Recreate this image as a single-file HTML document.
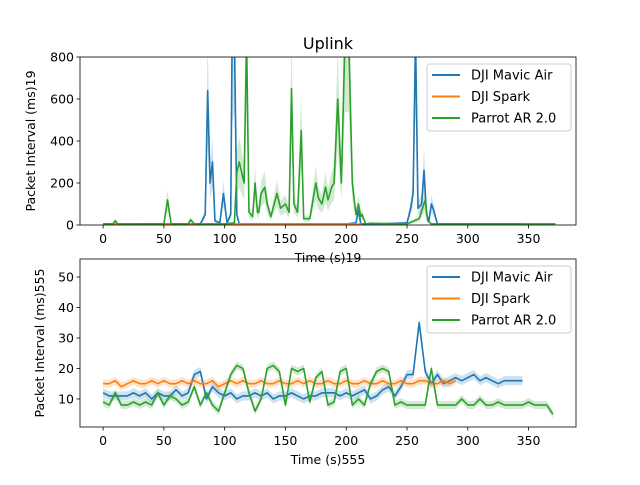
<!DOCTYPE html>
<html><head><meta charset="utf-8"><style>
body{margin:0;background:#fff}
svg{font-family:"DejaVu Sans","Liberation Sans",sans-serif}
</style></head><body>
<svg id="c" width="640" height="480" viewBox="0 0 640 480"></svg>
<script>
const topMavicT=[0,20,40,60,80,84,86,88,90,92,96,99,102,105,106,108,110,112,120,150,200,208,210,212,230,250,253,255,257,259,262,264,266,268,270,272,275,300,345];
const topMavicV=[5,4,5,5,6,50,640,200,300,20,10,150,10,50,800,900,50,5,6,5,5,10,70,5,6,10,80,150,900,80,100,260,50,20,100,70,5,5,5];
const topSparkT=[0,30,60,100,110,150,200,213];
const topSparkV=[3,4,3,4,5,5,5,4];
const topParrotT=[0,8,10,12,50,53,56,70,72,75,100,108,110,112,114,116,118,120,123,125,127,128,130,133,135,138,143,146,150,153,155,157,160,163,165,170,175,177,180,183,185,188,190,193,196,199,202,205,208,210,212,213,216,220,250,260,265,267,270,300,372];
const topParrotV=[5,5,20,5,5,120,5,5,25,5,5,10,250,300,250,200,900,60,40,200,60,60,150,180,100,40,150,80,100,60,650,100,60,450,30,30,200,130,100,180,120,180,200,600,200,900,900,200,50,100,40,50,5,8,5,30,120,20,5,5,5];
const botMavic=[12,11,11,11,11,12,11,12,10,12,11,11,13,11,12,18,19,10,14,12,11,12,10,11,11,12,11,12,10,11,11,12,11,10,11,11,12,12,12,11,12,11,12,13,10,11,13,14,11,14,18,18,35,19,15,18,15,16,17,16,17,18,16,17,16,15,16,16,16,16];
const botSpark=[15,15,16,14,15,16,15,15,16,15,16,15,15,16,15,16,15,15,16,14,15,16,15,16,15,15,16,15,15,16,15,15,16,15,16,15,15,16,15,15,16,15,15,16,15,15,16,15,15,16,15,15,16,16,15,15,16,15,16];
const botParrot=[9,8,12,8,8,9,8,9,8,12,8,11,10,8,9,14,8,12,8,6,12,18,21,20,12,6,10,20,21,19,8,20,19,20,9,17,19,8,9,19,20,8,10,8,15,19,20,19,8,9,8,8,8,8,20,8,8,8,8,10,8,8,10,8,8,9,8,8,8,8,9,8,8,8,5];
const xTicks=[0,50,100,150,200,250,300,350];
const topYTicks=[0,200,400,600,800];
const botYTicks=[10,20,30,40,50];
const C=['#1f77b4','#ff7f0e','#2ca02c'];
const NAMES=['DJI Mavic Air','DJI Spark','Parrot AR 2.0'];
const svg=document.getElementById('c');
const NS='http://www.w3.org/2000/svg';
function mk(t,a,p){const e=document.createElementNS(NS,t);for(const k in a)e.setAttribute(k,a[k]);(p||svg).appendChild(e);return e;}
const X0=80,X1=576,xmin=-19,xmax=389;
const xs=v=>X0+(v-xmin)/(xmax-xmin)*(X1-X0);
function axes(top,bot,ymin,ymax,yt,ylab,xlab,series,pref){
  const ys=v=>bot-(v-ymin)/(ymax-ymin)*(bot-top);
  const g=mk('g',{});
  
  
  const cp=mk('clipPath',{id:pref+'clip'},g);mk('rect',{x:X0,y:top,width:X1-X0,height:bot-top},cp);
  const pg=mk('g',{'clip-path':'url(#'+pref+'clip)'},g);
  series.forEach((s,i)=>{
    const up=s.t.map((t,j)=>xs(t)+','+ys(s.v[j]*s.hi+s.add)).join(' ');
    const dn=s.t.map((t,j)=>xs(t)+','+ys(Math.max(ymin,s.v[j]*s.lo-s.add))).reverse().join(' ');
    const band=mk('polygon',{points:up+' '+dn,fill:C[i],'fill-opacity':0.22,stroke:'none'},pg);
    
    
    const ln=mk('polyline',{points:s.t.map((t,j)=>xs(t)+','+ys(s.v[j])).join(' '),fill:'none',stroke:C[i],'stroke-width':1.6,'stroke-linejoin':'round'},pg);
    
    
  });
  mk('rect',{x:X0,y:top,width:X1-X0,height:bot-top,fill:'none',stroke:'#000','stroke-width':0.8},g);
  xTicks.forEach(t=>{const x=xs(t);mk('line',{x1:x,x2:x,y1:bot,y2:bot+3.5,stroke:'#000','stroke-width':0.8},g);
    const tx=mk('text',{x:x,y:bot+18,'font-size':12.5,'text-anchor':'middle'},g);tx.textContent=t;});
  yt.forEach(t=>{const y=ys(t);mk('line',{x1:X0-3.5,x2:X0,y1:y,y2:y,stroke:'#000','stroke-width':0.8},g);
    const tx=mk('text',{x:X0-6,y:y+4.5,'font-size':12.5,'text-anchor':'end'},g);tx.textContent=t;});
  const xl=mk('text',{x:(X0+X1)/2,y:bot+37,'font-size':12.5,'text-anchor':'middle'},g);xl.textContent=xlab;
  
  const yl=mk('text',{x:0,y:0,'font-size':12.5,'text-anchor':'middle',transform:'translate('+(pref=='top'?35:44)+','+((top+bot)/2)+') rotate(-90)'},g);yl.textContent=ylab;
  
  const lg=mk('g',{},g);
  
  
  mk('rect',{x:427,y:top+7,width:144,height:67,rx:3,fill:'#fff','fill-opacity':0.8,stroke:'#ccc'},lg);
  NAMES.forEach((n,i)=>{const y=top+18+i*21.5;
    mk('line',{x1:432,x2:460,y1:y,y2:y,stroke:C[i],'stroke-width':2},lg);
    const tx=mk('text',{x:471,y:y+4.5,'font-size':13},lg);tx.textContent=n;});
}
const tl=mk('text',{x:328,y:49,'font-size':16,'text-anchor':'middle'});tl.textContent='Uplink';

const idx=a=>a.map((_,i)=>i*5);
axes(259,427,0.8,55.9,botYTicks,'Packet Interval (ms)555','Time (s)555',[
 {t:idx(botMavic),v:botMavic,hi:1,lo:1,add:1.5},
 {t:idx(botSpark),v:botSpark,hi:1,lo:1,add:1.3},
 {t:idx(botParrot).map(t=>Math.min(t,371)),v:botParrot,hi:1,lo:1,add:1.3}],'bottom');
axes(57,225,0,800,topYTicks,'Packet Interval (ms)19','Time (s)19',[
 {t:topMavicT,v:topMavicV,hi:1.4,lo:0.6,add:2},
 {t:topSparkT,v:topSparkV,hi:1,lo:1,add:1},
 {t:topParrotT,v:topParrotV,hi:1.4,lo:0.6,add:2}],'top');
</script>
</body></html>
